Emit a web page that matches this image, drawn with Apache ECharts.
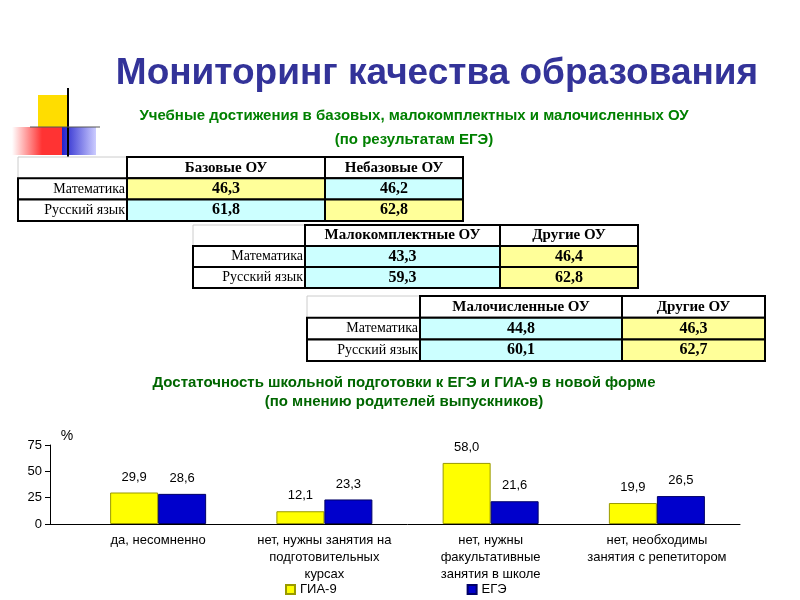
<!DOCTYPE html>
<html><head><meta charset="utf-8">
<script src="https://cdn.jsdelivr.net/npm/echarts@6/dist/echarts.min.js"></script>
<style>html,body{margin:0;padding:0;background:#fff}#c{width:800px;height:600px}</style>
</head><body><div id="c"></div>
<script>
var categories = ['да, несомненно', 'нет, нужны занятия на\nподготовительных\nкурсах', 'нет, нужны\nфакультативные\nзанятия в школе', 'нет, необходимы\nзанятия с репетитором'];
var gia9 = [29.9, 12.1, 58.0, 19.9];
var ege = [28.6, 23.3, 21.6, 26.5];
var yTicks = [0, 25, 50, 75];
var rowLabels = ['Математика', 'Русский язык'];
var t1Head = ['Базовые ОУ', 'Небазовые ОУ'];
var t1Vals = [['46,3', '46,2'], ['61,8', '62,8']];
var t2Head = ['Малокомплектные ОУ', 'Другие ОУ'];
var t2Vals = [['43,3', '46,4'], ['59,3', '62,8']];
var t3Head = ['Малочисленные ОУ', 'Другие ОУ'];
var t3Vals = [['44,8', '46,3'], ['60,1', '62,7']];

var Y = '#ffff99', C = '#ccffff';
function table(x, y, w0, w1, w2, rh, head, vals, colors) {
  var els = [];
  var xs = [x, x + w0, x + w0 + w1, x + w0 + w1 + w2];
  els.push({type:'rect', shape:{x:x, y:y, width:w0, height:rh}, style:{fill:'#fff', stroke:'#ccc', lineWidth:1}});
  for (var c = 0; c < 2; c++) {
    els.push({type:'rect', shape:{x:xs[c+1], y:y, width:[w1,w2][c], height:rh}, style:{fill:'#fff', stroke:'#000', lineWidth:2}});
    els.push({type:'text', x:xs[c+1] + [w1,w2][c]/2, y:y + rh/2, style:{text:head[c], font:'bold 15px "Liberation Serif"', align:'center', verticalAlign:'middle', fill:'#000'}});
  }
  for (var r = 0; r < 2; r++) {
    var yy = y + rh * (r + 1);
    els.push({type:'rect', shape:{x:x, y:yy, width:w0, height:rh}, style:{fill:'#fff', stroke:'#000', lineWidth:2}});
    els.push({type:'text', x:xs[1] - 2, y:yy + rh/2, style:{text:rowLabels[r], font:'14px "Liberation Serif"', align:'right', verticalAlign:'middle', fill:'#000'}});
    for (var c = 0; c < 2; c++) {
      els.push({type:'rect', shape:{x:xs[c+1], y:yy, width:[w1,w2][c], height:rh}, style:{fill:colors[r][c], stroke:'#000', lineWidth:2}});
      els.push({type:'text', x:xs[c+1] + [w1,w2][c]/2, y:yy + rh/2, style:{text:vals[r][c], font:'bold 16px "Liberation Serif"', align:'center', verticalAlign:'middle', fill:'#000'}});
    }
  }
  return els;
}
var graphics = [
  {type:'rect', shape:{x:38, y:95, width:30, height:32}, style:{fill:'#ffdd00'}},
  {type:'rect', shape:{x:12, y:127, width:50, height:28}, style:{fill:new echarts.graphic.LinearGradient(0,0,1,0,[{offset:0,color:'#fff'},{offset:0.6,color:'#ff3333'},{offset:1,color:'#ff3333'}])}},
  {type:'rect', shape:{x:62, y:127, width:34, height:28}, style:{fill:new echarts.graphic.LinearGradient(0,0,1,0,[{offset:0,color:'#2222cc'},{offset:1,color:'#ccccff'}])}},
  {type:'line', shape:{x1:68, y1:88, x2:68, y2:162}, style:{stroke:'#000', lineWidth:2}},
  {type:'line', shape:{x1:30, y1:127, x2:100, y2:127}, style:{stroke:'#555', lineWidth:1}},
  {type:'text', x:437, y:74, style:{text:'Мониторинг качества образования', font:'bold 37px "Liberation Sans"', fill:'#333399', align:'center', verticalAlign:'middle'}},
  {type:'text', x:414, y:116, style:{text:'Учебные достижения в базовых, малокомплектных и малочисленных ОУ', font:'bold 15px "Liberation Sans"', fill:'#008000', align:'center', verticalAlign:'middle'}},
  {type:'text', x:414, y:140, style:{text:'(по результатам ЕГЭ)', font:'bold 15px "Liberation Sans"', fill:'#008000', align:'center', verticalAlign:'middle'}},
  {type:'text', x:404, y:383, style:{text:'Достаточность школьной подготовки к ЕГЭ и ГИА-9 в новой форме', font:'bold 15px "Liberation Sans"', fill:'#006600', align:'center', verticalAlign:'middle'}},
  {type:'text', x:404, y:402, style:{text:'(по мнению родителей выпускников)', font:'bold 15px "Liberation Sans"', fill:'#006600', align:'center', verticalAlign:'middle'}},
  {type:'text', x:67, y:436, style:{text:'%', font:'14px "Liberation Sans"', fill:'#000', align:'center', verticalAlign:'middle'}},
  {type:'line', z:100, shape:{x1:50, y1:524.5, x2:76, y2:524.5}, style:{stroke:'#000', lineWidth:1}}
];
graphics = graphics.concat(table(18, 157, 109, 198, 138, 21.3, t1Head, t1Vals, [[Y,C],[C,Y]]));
graphics = graphics.concat(table(193, 225, 112, 195, 138, 21, t2Head, t2Vals, [[C,Y],[C,Y]]));
graphics = graphics.concat(table(307, 296, 113, 202, 143, 21.7, t3Head, t3Vals, [[C,Y],[C,Y]]));

var chart = echarts.init(document.getElementById('c'));
var fmt = function(p){return p.value.toFixed(1).replace('.',',');};
chart.setOption({
  animation:false,
  textStyle:{fontFamily:'Liberation Sans'},
  grid:{left:75, right:60, top:445, bottom:76},
  legend:{bottom:-1, left:280, itemGap:130, itemWidth:9, itemHeight:9, textStyle:{fontSize:13, color:'#000'},
    data:[{name:'ГИА-9', icon:'rect'},{name:'ЕГЭ', icon:'rect'}]},
  xAxis:{type:'category', data:categories, axisLine:{lineStyle:{color:'#000'}}, axisTick:{length:5, lineStyle:{color:'#000'}},
    axisLabel:{color:'#000', fontSize:13, lineHeight:17, interval:0, margin:8}},
  yAxis:{type:'value', min:0, max:75, interval:25, offset:25, axisLine:{show:true, lineStyle:{color:'#000'}}, axisTick:{show:true, lineStyle:{color:'#000'}},
    axisLabel:{color:'#000', fontSize:13}, splitLine:{show:false}},
  series:[
    {name:'ГИА-9', type:'bar', data:gia9, barWidth:48, barGap:'0%', itemStyle:{color:'#ffff00', borderColor:'#999900', borderWidth:1},
      label:{show:true, position:'top', color:'#000', fontSize:13, distance:9, formatter:fmt}},
    {name:'ЕГЭ', type:'bar', data:ege, barWidth:48, itemStyle:{color:'#0000cc', borderColor:'#000066', borderWidth:1},
      label:{show:true, position:'top', color:'#000', fontSize:13, distance:9, formatter:fmt}}
  ],
  graphic:graphics
});
</script></body></html>
